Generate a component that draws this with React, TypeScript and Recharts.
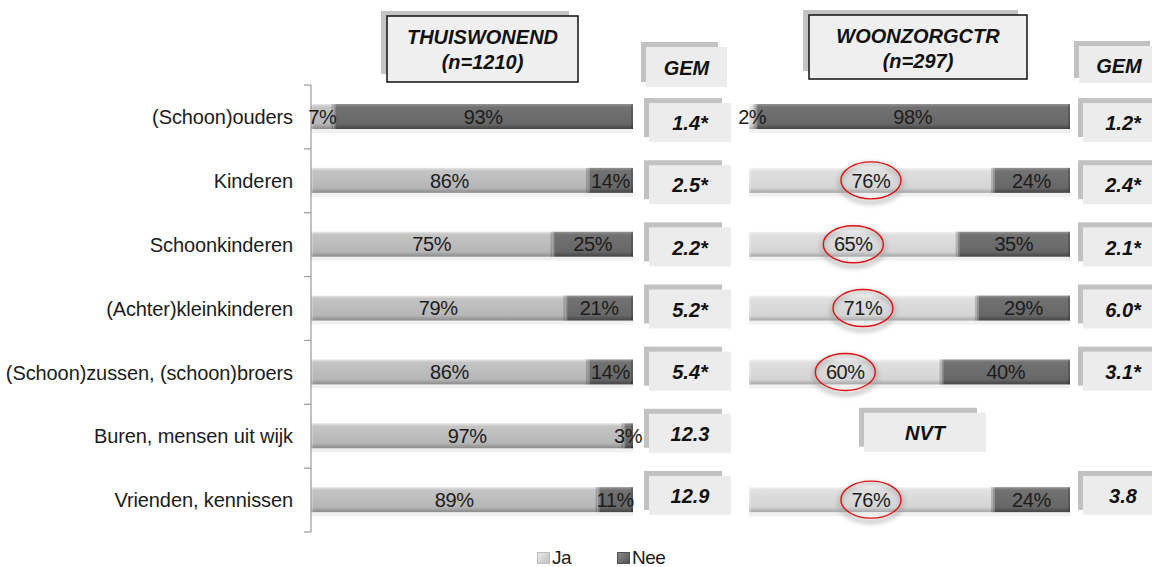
import React from 'react';
import { BarChart, Bar, XAxis, YAxis, LabelList, Legend } from 'recharts';

const categories = [
  '(Schoon)ouders',
  'Kinderen',
  'Schoonkinderen',
  '(Achter)kleinkinderen',
  '(Schoon)zussen, (schoon)broers',
  'Buren, mensen uit wijk',
  'Vrienden, kennissen',
];
const thuisJa = [7, 86, 75, 79, 86, 97, 89];
const thuisNee = [93, 14, 25, 21, 14, 3, 11];
const zorgJa = [2, 76, 65, 71, 60, null, 76];
const zorgNee = [98, 24, 35, 29, 40, null, 24];
const thuisGem = ['1.4*', '2.5*', '2.2*', '5.2*', '5.4*', '12.3', '12.9'];
const zorgGem = ['1.2*', '2.4*', '2.1*', '6.0*', '3.1*', 'NVT', '3.8'];
const zorgCircled = [false, true, true, true, true, false, true];
const seriesNames = ['Ja', 'Nee'];
const panelTitles = ['THUISWONEND', 'WOONZORGCTR'];
const panelN = ['(n=1210)', '(n=297)'];
const gemTitle = 'GEM';

const thuisData = categories.map((c, i) => ({ cat: c, ja: thuisJa[i], nee: thuisNee[i], gem: thuisGem[i] }));
const zorgData = categories.map((c, i) => ({ cat: c, ja: zorgJa[i], nee: zorgNee[i], gem: zorgGem[i], circ: zorgCircled[i] }));

const FONT = '"Liberation Sans", Arial, Helvetica, sans-serif';
const CH = 567;
const MARGIN_TOP = 85;
const MARGIN_BOTTOM = 35;
const PLOT_H = CH - MARGIN_TOP - MARGIN_BOTTOM;

const makeBarShape = (gid: string) => (props: any) => {
  const { x, y, width, height } = props;
  if (!width || width <= 0 || !height) return <g />;
  return (
    <g>
      <rect x={x} y={y + height} width={width} height={4} fill="#000" opacity={0.06} />
      <rect x={x} y={y} width={width} height={height} fill={`url(#${gid})`} />
      <rect x={x} y={y} width={Math.min(2, width)} height={height} fill="#fff" opacity={0.25} />
      <rect x={x + width - Math.min(2, width)} y={y} width={Math.min(2, width)} height={height} fill="#000" opacity={0.18} />
    </g>
  );
};

const Gradients = () => (
  <defs>
    <linearGradient id="jaL" x1="0" y1="0" x2="0" y2="1">
      <stop offset="0" stopColor="#e6e6e6" />
      <stop offset="0.12" stopColor="#c4c4c4" />
      <stop offset="0.8" stopColor="#b6b6b6" />
      <stop offset="1" stopColor="#8a8a8a" />
    </linearGradient>
    <linearGradient id="jaR" x1="0" y1="0" x2="0" y2="1">
      <stop offset="0" stopColor="#f4f4f4" />
      <stop offset="0.12" stopColor="#e0e0e0" />
      <stop offset="0.8" stopColor="#d4d4d4" />
      <stop offset="1" stopColor="#a6a6a6" />
    </linearGradient>
    <linearGradient id="nee" x1="0" y1="0" x2="0" y2="1">
      <stop offset="0" stopColor="#959595" />
      <stop offset="0.12" stopColor="#727272" />
      <stop offset="0.8" stopColor="#676767" />
      <stop offset="1" stopColor="#444444" />
    </linearGradient>
    <filter id="glow" x="-30%" y="-30%" width="160%" height="160%">
      <feGaussianBlur stdDeviation="2.5" />
    </filter>
  </defs>
);

const pctLabel = (circled?: boolean[]) => (props: any) => {
  const { x, y, width, height, value, index } = props;
  if (value == null) return null;
  const cx = x + width / 2;
  const cy = y + height / 2;
  const circ = circled && circled[index];
  return (
    <g>
      {circ && (
        <g>
          <ellipse cx={cx} cy={cy + 3} rx={31} ry={19} fill="none" stroke="#999" strokeWidth={3} filter="url(#glow)" opacity={0.8} />
          <ellipse cx={cx} cy={cy} rx={30} ry={18.5} fill="none" stroke="#e01010" strokeWidth={1.4} />
        </g>
      )}
      <text x={cx} y={cy} dy="0.36em" textAnchor="middle" fontFamily={FONT} fontSize={20} fill="#1c1c1c" letterSpacing={-0.4}>
        {`${value}%`}
      </text>
    </g>
  );
};

const CatTick = (props: any) => {
  const { x, y, payload, index } = props;
  const step = PLOT_H / categories.length;
  const ax = x + 18;
  return (
    <g>
      <line x1={ax - 7} x2={ax} y1={y - step / 2} y2={y - step / 2} stroke="#9a9a9a" strokeWidth={1.2} />
      {index === categories.length - 1 && (
        <line x1={ax - 7} x2={ax} y1={y + step / 2} y2={y + step / 2} stroke="#9a9a9a" strokeWidth={1.2} />
      )}
      <text x={x} y={y} dy="0.36em" textAnchor="end" fontFamily={FONT} fontSize={20} fill="#1c1c1c" letterSpacing={-0.1}>
        {payload.value}
      </text>
    </g>
  );
};

const GemBox = ({ x, y, w, text }: { x: number; y: number; w: number; text: string }) => (
  <g>
    <rect x={x - 5} y={y - 5} width={w - 4} height={39} fill="#c2c2c2" />
    <rect x={x} y={y} width={w} height={39} fill="#ececec" />
    <text x={x + w / 2 + 0} y={y + 20} dy="0.36em" textAnchor="middle" fontFamily={FONT} fontSize={20} fontWeight="bold" fontStyle="italic" fill="#111">
      {text}
    </text>
  </g>
);

const makeGemTick = (gems: string[], boxW: number, nvtShift: number) => (props: any) => {
  const { x, y, index } = props;
  const t = gems[index];
  if (t === 'NVT') {
    return <GemBox x={x - nvtShift} y={y - 21} w={122} text={t} />;
  }
  return <GemBox x={x} y={y - 20} w={boxW} text={t} />;
};

const LegendContent = (props: any) => {
  const { payload } = props;
  return (
    <div style={{ display: 'flex', alignItems: 'center', fontFamily: FONT, fontSize: 19, color: '#1c1c1c', letterSpacing: -0.5 }}>
      {(payload || []).map((p: any, i: number) => (
        <div key={i} style={{ display: 'flex', alignItems: 'center', marginRight: 46 }}>
          <span
            style={{
              display: 'inline-block',
              width: 13,
              height: 12,
              background: i === 0 ? 'linear-gradient(135deg,#e8e8e8,#c2c2c2)' : 'linear-gradient(135deg,#8a8a8a,#555)',
              border: '1px solid ' + (i === 0 ? '#bdbdbd' : '#505050'),
              boxSizing: 'border-box',
              marginRight: 2,
            }}
          />
          <span>{p.value}</span>
        </div>
      ))}
    </div>
  );
};

const HeaderBox = ({ x, y, w, h, l1, l2 }: any) => (
  <g>
    <rect x={x - 6} y={y - 5} width={w - 3} height={h - 3} fill="#c4c4c4" />
    <rect x={x} y={y} width={w} height={h} fill="#efefef" stroke="#111" strokeWidth={1.5} />
    <text x={x + w / 2} y={y + 21} dy="0.36em" textAnchor="middle" fontFamily={FONT} fontSize={20} fontWeight="bold" fontStyle="italic" fill="#111">
      {l1}
    </text>
    <text x={x + w / 2} y={y + 46} dy="0.36em" textAnchor="middle" fontFamily={FONT} fontSize={20} fontWeight="bold" fontStyle="italic" fill="#111">
      {l2}
    </text>
  </g>
);

const GemHeader = ({ x, y, w, h }: any) => (
  <g>
    <rect x={x - 5} y={y - 5} width={w - 4} height={h} fill="#c2c2c2" />
    <rect x={x} y={y} width={w} height={h} fill="#ececec" />
    <text x={x + w / 2} y={y + h / 2 + 1} dy="0.36em" textAnchor="middle" fontFamily={FONT} fontSize={20} fontWeight="bold" fontStyle="italic" fill="#111">
      {gemTitle}
    </text>
  </g>
);

export default function App() {
  return (
    <div style={{ position: 'absolute', left: 0, top: 0, width: 1152, height: 567, background: '#fff', overflow: 'hidden' }}>
      <div style={{ position: 'absolute', left: 0, top: 0 }}>
        <BarChart layout="vertical" width={740} height={CH} data={thuisData} margin={{ top: MARGIN_TOP, right: 0, bottom: MARGIN_BOTTOM, left: 0 }} barSize={25}>
          <Gradients />
          <XAxis type="number" domain={[0, 100]} hide />
          <YAxis
            type="category"
            dataKey="cat"
            width={311}
            interval={0}
            tickSize={0}
            tickMargin={18}
            tickLine={false}
            axisLine={{ stroke: '#9a9a9a', strokeWidth: 1.2 }}
            tick={<CatTick />}
          />
          <YAxis
            yAxisId="gem"
            orientation="right"
            type="category"
            dataKey="cat"
            width={107}
            interval={0}
            tickSize={0}
            tickMargin={16}
            tickLine={false}
            axisLine={false}
            padding={{ top: 7, bottom: 5 }}
            tick={makeGemTick(thuisGem, 82, 0)}
          />
          <Legend
            layout="horizontal"
            verticalAlign="middle"
            align="center"
            content={<LegendContent />}
            wrapperStyle={{ position: 'absolute', left: 537, top: 547, width: 200, height: 20, bottom: 'auto' }}
          />
          <Bar dataKey="ja" name={seriesNames[0]} stackId="a" fill="#c0c0c0" shape={makeBarShape('jaL')} isAnimationActive={false}>
            <LabelList dataKey="ja" content={pctLabel()} />
          </Bar>
          <Bar dataKey="nee" name={seriesNames[1]} stackId="a" fill="#6a6a6a" shape={makeBarShape('nee')} isAnimationActive={false}>
            <LabelList dataKey="nee" content={pctLabel()} />
          </Bar>
        </BarChart>
      </div>
      <div style={{ position: 'absolute', left: 700, top: 0 }}>
        <BarChart layout="vertical" width={452} height={CH} data={zorgData} margin={{ top: MARGIN_TOP, right: 0, bottom: MARGIN_BOTTOM, left: 49 }} barSize={25}>
          <Gradients />
          <XAxis type="number" domain={[0, 100]} hide />
          <YAxis type="category" dataKey="cat" hide />
          <YAxis
            yAxisId="gem"
            orientation="right"
            type="category"
            dataKey="cat"
            width={82}
            interval={0}
            tickSize={0}
            tickMargin={13}
            tickLine={false}
            axisLine={false}
            padding={{ top: 7, bottom: 5 }}
            tick={makeGemTick(zorgGem, 80, 219)}
          />
          <Bar dataKey="ja" name={seriesNames[0]} stackId="a" fill="#d8d8d8" shape={makeBarShape('jaR')} isAnimationActive={false}>
            <LabelList dataKey="ja" content={pctLabel(zorgCircled)} />
          </Bar>
          <Bar dataKey="nee" name={seriesNames[1]} stackId="a" fill="#6a6a6a" shape={makeBarShape('nee')} isAnimationActive={false}>
            <LabelList dataKey="nee" content={pctLabel()} />
          </Bar>
        </BarChart>
      </div>
      <svg width={1152} height={100} style={{ position: 'absolute', left: 0, top: 0, pointerEvents: 'none' }}>
        <HeaderBox x={387} y={16} w={191} h={66} l1={panelTitles[0]} l2={panelN[0]} />
        <HeaderBox x={809} y={15} w={218} h={64} l1={panelTitles[1]} l2={panelN[1]} />
        <GemHeader x={646} y={47} w={81} h={40} />
        <GemHeader x={1079} y={46} w={80} h={37} />
      </svg>
    </div>
  );
}
